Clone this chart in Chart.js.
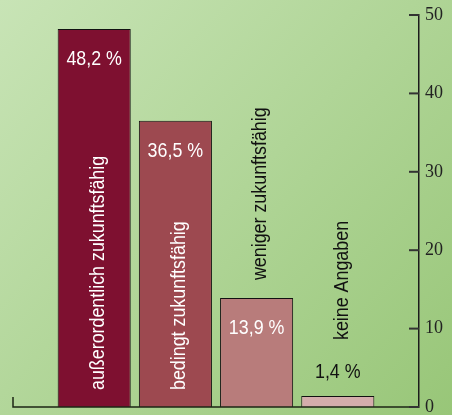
<!DOCTYPE html>
<html>
<head>
<meta charset="utf-8">
<script src="https://cdn.jsdelivr.net/npm/chart.js@4"></script>
<style>
  html, body { margin: 0; padding: 0; background: #b4d79c; }
  #wrap { width: 452px; height: 415px; position: relative; }
</style>
</head>
<body>
<div id="wrap"><canvas id="chart"></canvas></div>
<script>
const categories = ['außerordentlich zukunftsfähig', 'bedingt zukunftsfähig', 'weniger zukunftsfähig', 'keine Angaben'];
const values = [48.2, 36.5, 13.9, 1.4];
const barColors = ['#7e1030', '#9d4950', '#b87c7b', '#d4adac'];
const yTicks = [0, 10, 20, 30, 40, 50];

// no narrow font installed, so the text is squeezed horizontally
const labelFont = '21px "Liberation Sans", Arial, sans-serif';
const squeeze = 0.85;

// empty slots on both sides so the bars sit like in the original
const xLabels = [''].concat(categories, ['']);
const yData = [null].concat(values, [null]);

function fmt(v) {
    return v.toFixed(1).replace('.', ',') + ' %';
}

// green gradient background
const background = {
    id: 'background',
    beforeDraw(chart) {
        const ctx = chart.ctx;
        const g = ctx.createLinearGradient(0, 0, chart.width, chart.height);
        g.addColorStop(0, '#c8e4b6');
        g.addColorStop(1, '#98c678');
        ctx.save();
        ctx.fillStyle = g;
        ctx.fillRect(0, 0, chart.width, chart.height);
        ctx.restore();
    }
};

function narrowText(ctx, text, x, y, angle, align, color) {
    ctx.save();
    ctx.translate(x, y);
    ctx.rotate(angle);
    ctx.scale(squeeze, 1);
    ctx.font = labelFont;
    ctx.fillStyle = color;
    ctx.textAlign = align;
    ctx.textBaseline = 'middle';
    ctx.fillText(text, 0, 0);
    ctx.restore();
}

// baseline, inner ticks of the right axis and bar texts
const extras = {
    id: 'extras',
    afterDatasetsDraw(chart) {
        const ctx = chart.ctx;
        const x = chart.scales.x;
        const y = chart.scales.y;
        const area = chart.chartArea;
        const base = y.getPixelForValue(0);

        ctx.save();
        ctx.strokeStyle = '#1c2614';
        ctx.lineWidth = 1.5;
        ctx.beginPath();
        ctx.moveTo(x.getPixelForValue(0), base - 10);
        ctx.lineTo(x.getPixelForValue(0), base);
        ctx.lineTo(area.right, base);
        ctx.stroke();

        ctx.strokeStyle = '#333';
        ctx.lineWidth = 2;
        yTicks.forEach(t => {
            const py = y.getPixelForValue(t);
            ctx.beginPath();
            ctx.moveTo(area.right - 10, py);
            ctx.lineTo(area.right, py);
            ctx.stroke();
        });
        ctx.restore();

        ctx.font = labelFont;
        const meta = chart.getDatasetMeta(0);
        values.forEach((v, i) => {
            const bar = meta.data[i + 1];
            const h = base - bar.y;
            const inside = h > 40;
            const valY = inside ? bar.y + 30 : bar.y - 24;
            narrowText(ctx, fmt(v), bar.x, valY, 0, 'center', inside ? '#ffffff' : '#111111');

            const w = ctx.measureText(categories[i]).width * squeeze;
            let start, color;
            if (h - 40 > w + 20) {
                start = base - 17;
                color = '#ffffff';
            } else if (inside) {
                start = bar.y - 18;
                color = '#111111';
            } else {
                start = valY - 32;
                color = '#111111';
            }
            narrowText(ctx, categories[i], bar.x + 4, start, -Math.PI / 2, 'left', color);
        });
    }
};

new Chart(document.getElementById('chart'), {
    type: 'bar',
    data: {
        labels: xLabels,
        datasets: [{
            data: yData,
            backgroundColor: [null].concat(barColors, [null]),
            borderColor: '#111111',
            borderWidth: 1,
            borderSkipped: 'bottom',
            categoryPercentage: 0.9,
            barPercentage: 1
        }]
    },
    options: {
        responsive: true,
        maintainAspectRatio: false,
        animation: false,
        layout: { padding: { left: 13, top: 15, bottom: 8, right: 0 } },
        plugins: {
            legend: { display: false },
            tooltip: { enabled: false }
        },
        scales: {
            x: {
                display: false,
                offset: false
            },
            y: {
                position: 'right',
                min: 0,
                max: 50,
                afterBuildTicks(scale) {
                    scale.ticks = yTicks.map(v => ({ value: v }));
                },
                afterFit(scale) {
                    scale.width = 33;
                    scale.paddingTop = 0;
                    scale.paddingBottom = 0;
                },
                grid: { display: false, drawTicks: false },
                border: { display: true, color: '#1c1c1c', width: 1.5 },
                ticks: {
                    padding: 6,
                    color: '#222',
                    font: { family: '"Liberation Serif", "Times New Roman", serif', size: 18 }
                }
            }
        }
    },
    plugins: [background, extras]
});
</script>
</body>
</html>
